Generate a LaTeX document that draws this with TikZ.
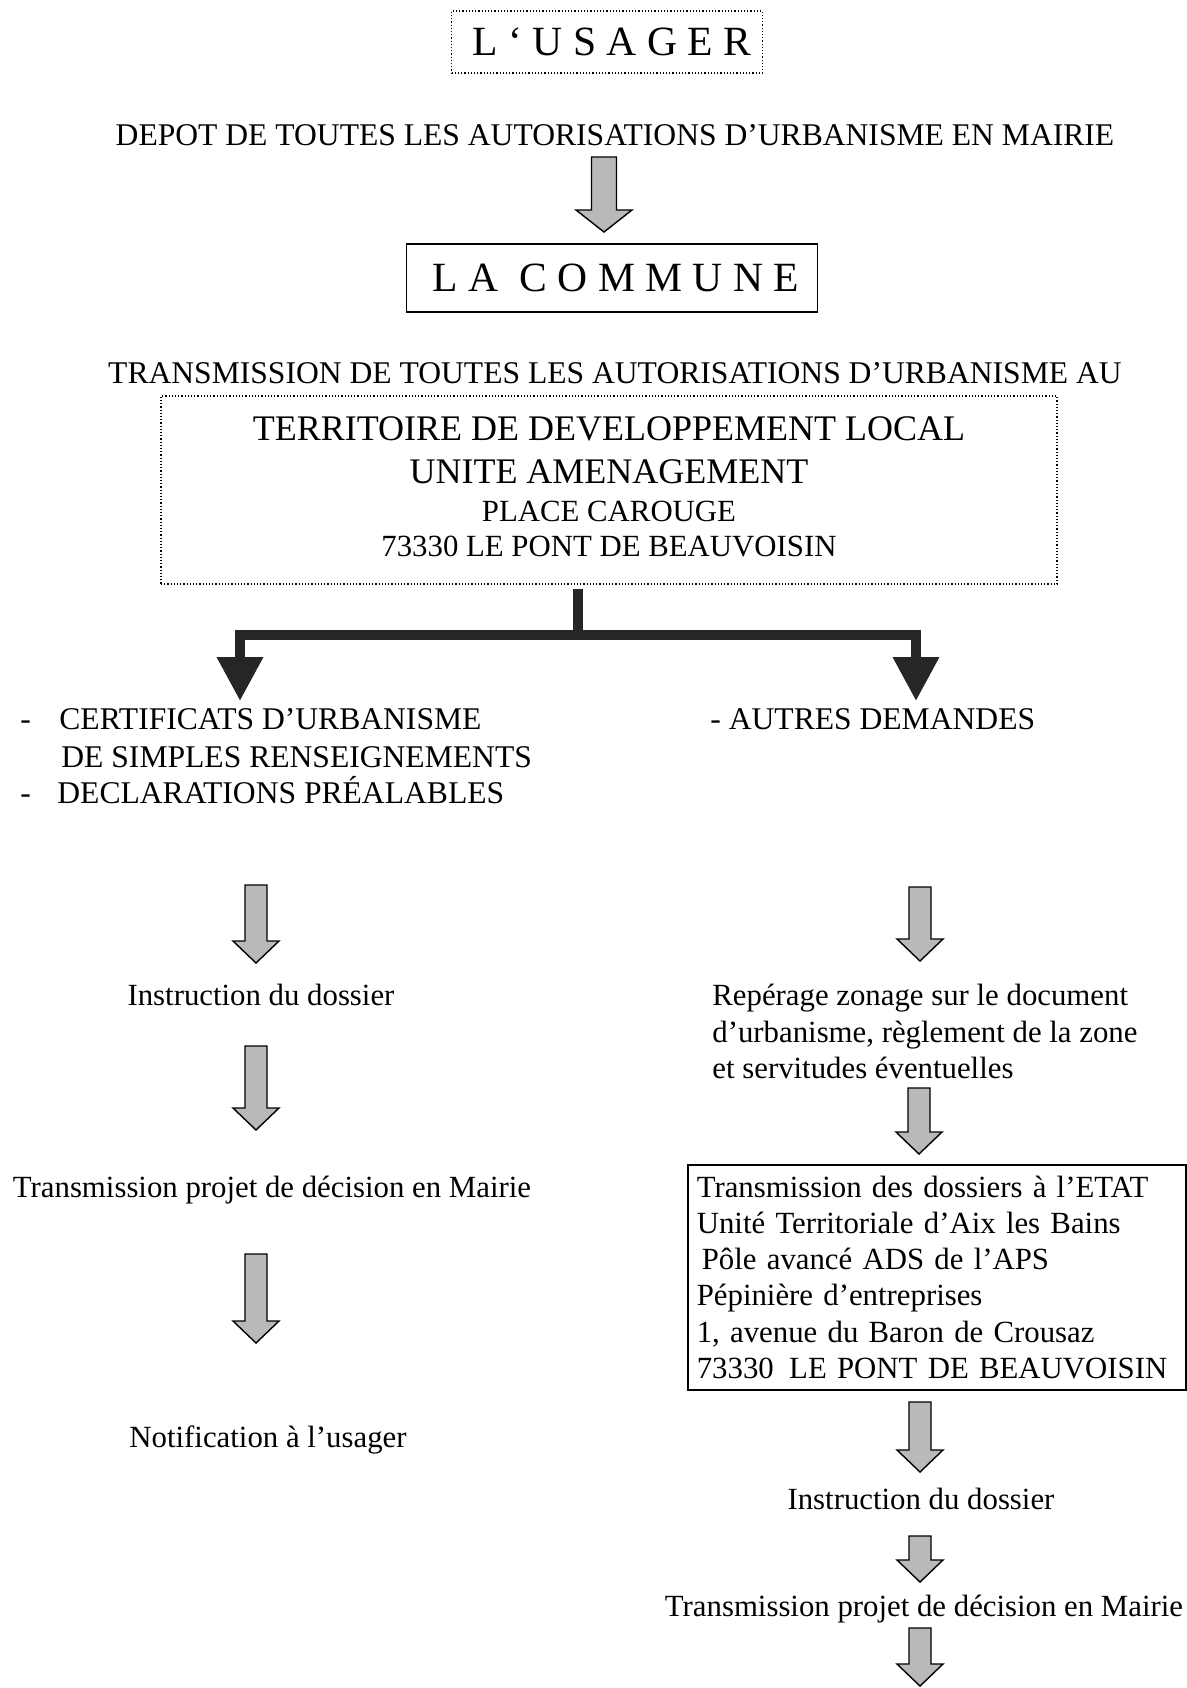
\documentclass[tikz,border=0pt]{standalone}
\usepackage{fontspec}
\setmainfont{Liberation Serif}
\usetikzlibrary{calc,arrows.meta}

\newcommand{\txtsize}{\fontsize{15.4}{18.1}\selectfont}
\newcommand{\capsize}{\fontsize{15.8}{18.1}\selectfont}
\newcommand{\bigcaps}{\fontsize{20.8}{24}\selectfont\addfontfeature{LetterSpace=25}}
\newcommand{\midcaps}{\fontsize{18}{21.5}\selectfont}

% block arrow: start, tip, half shaft width, half head width
\newcommand{\fatarrow}[4]{%
  \draw[fat] ($(#1)+(-#3,0)$) -- ($(#2)+(-#3,-22)$) -- ($(#2)+(-#4,-22)$) -- (#2)
    -- ($(#2)+(#4,-22)$) -- ($(#2)+(#3,-22)$) -- ($(#1)+(#3,0)$) -- cycle;}

\begin{document}
\begin{tikzpicture}[x=0.5pt, y=-0.5pt,
    txt/.style={inner sep=0pt, font=\txtsize},
    caps/.style={inner sep=0pt, font=\capsize},
    dotbox/.style={draw, densely dotted, line width=0.6pt},
    solidbox/.style={draw, line width=0.8pt},
    fat/.style={draw=black, line width=0.7pt, fill=gray!55, line join=miter},
    branch/.style={line width=5pt, draw=black!85, line join=miter},
    >={Triangle[width=22pt,length=22pt]}
]
\useasboundingbox (0,0) rectangle (1187,1688);

% Top of the chain
\node[dotbox, minimum width=155.5pt, minimum height=31pt, font=\bigcaps] (usager) at (607,42) {\hspace*{5pt}L‘USAGER};
\node[caps, anchor=base] (depot) at (615,145) {DEPOT DE TOUTES LES AUTORISATIONS D’URBANISME EN MAIRIE};
\node[solidbox, minimum width=205.5pt, minimum height=34pt, font=\bigcaps] (commune) at (612,278) {\hspace*{4pt}LA COMMUNE};
\node[caps, anchor=base] (transm) at (615,383) {TRANSMISSION DE TOUTES LES AUTORISATIONS D’URBANISME AU};
\node[dotbox, minimum width=448pt, minimum height=94pt, align=center, font=\txtsize] (tdl) at (609,490) {};
\node[align=center, font=\txtsize, inner sep=0pt] (tdltext) at ($(tdl)+(0,-3)$)
    {{\midcaps TERRITOIRE DE DEVELOPPEMENT LOCAL}\\[3.5pt]{\midcaps UNITE AMENAGEMENT}\\[0.5pt]PLACE CAROUGE\\[-0.3pt]73330 LE PONT DE BEAUVOISIN};

% Fork
\coordinate (fork) at (578,635);
\coordinate (forkl) at (240,701);
\coordinate (forkr) at (916,701);
\draw[branch] ($(tdl.south -| fork)+(0,4)$) -- (fork);
\draw[branch,->] (fork) -| (forkl);
\draw[branch,->] (fork) -| (forkr);

% Left branch
\node[caps, anchor=base west] (dash1) at (20,729) {-};
\node[caps, anchor=base west] (cu) at (59,729) {CERTIFICATS D’URBANISME};
\node[caps, anchor=base west] (dsr) at (61,767) {DE SIMPLES RENSEIGNEMENTS};
\node[caps, anchor=base west] (dash2) at (20,803) {-};
\node[caps, anchor=base west] (dp) at (57,803) {DECLARATIONS PRÉALABLES};
\node[txt, anchor=base] (instrl) at (261,1005) {Instruction du dossier};
\node[txt, anchor=base] (projl) at (272,1197) {Transmission projet de décision en Mairie};
\node[txt, anchor=base] (notif) at (268,1447) {Notification à l’usager};

% Right branch
\node[caps, anchor=base west] (autres) at (710,729) {- AUTRES DEMANDES};
\node[txt, anchor=north west, align=left] (reperage) at (712,984)
    {Repérage zonage sur le document\\d’urbanisme, règlement de la zone\\et servitudes éventuelles};
\node[solidbox, anchor=north west, align=left, text width=240pt, inner xsep=4.5pt, inner ysep=5.5pt, font=\txtsize] (etat) at (687,1164)
    {Transmission des dossiers à l’ETAT\\Unité Territoriale d’Aix les Bains\\\hspace*{2.5pt}Pôle avancé ADS de l’APS\\Pépinière d’entreprises\\1, avenue du Baron de Crousaz\\73330\enspace LE PONT DE BEAUVOISIN};
\node[txt, anchor=base] (instrr) at (921,1509) {Instruction du dossier};
\node[txt, anchor=base] (projr) at (924,1616) {Transmission projet de décision en Mairie};

% Block arrows
\coordinate (a0s) at (604,157);  \coordinate (a0e) at (604,232);
\coordinate (l1s) at (256,885);  \coordinate (l1e) at (256,963);
\coordinate (l2s) at (256,1046); \coordinate (l2e) at (256,1130);
\coordinate (l3s) at (256,1254); \coordinate (l3e) at (256,1343);
\coordinate (r1s) at (920,887);  \coordinate (r1e) at (920,961);
\coordinate (r2s) at (919,1088); \coordinate (r2e) at (919,1154);
\coordinate (r3s) at (920,1402); \coordinate (r3e) at (920,1472);
\coordinate (r4s) at (920,1536); \coordinate (r4e) at (920,1582);
\coordinate (r5s) at (920,1628); \coordinate (r5e) at (920,1686);
\fatarrow{a0s}{a0e}{12.5}{28}
\foreach \a in {l1,l2,l3,r1,r2,r3,r4,r5}
  \fatarrow{\a s}{\a e}{11}{23};
\end{tikzpicture}
\end{document}
